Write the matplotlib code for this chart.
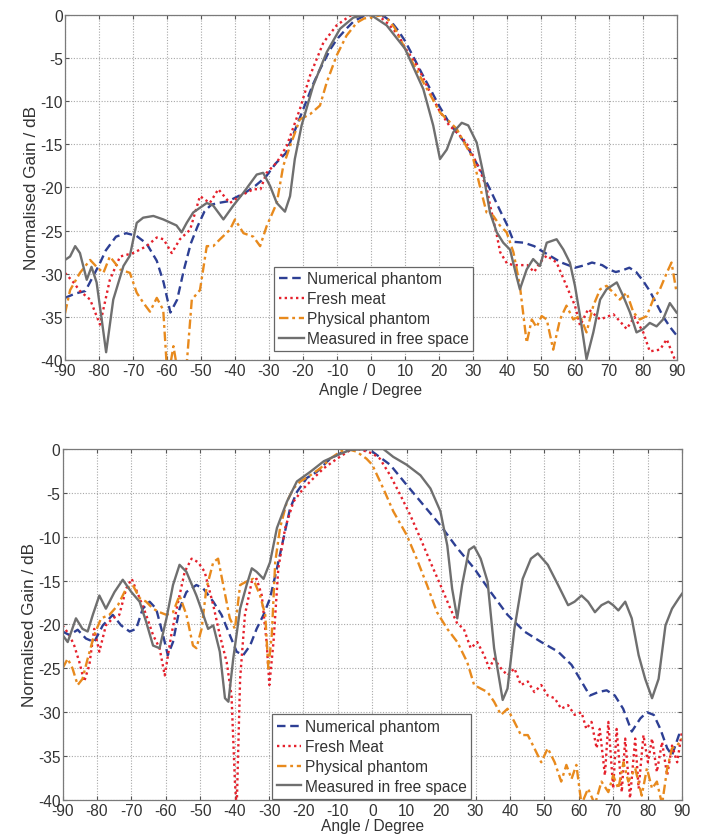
import matplotlib
matplotlib.use("Agg")
import matplotlib.pyplot as plt

plt.rcParams['font.family'] = ['Liberation Sans', 'DejaVu Sans']
plt.rcParams['axes.unicode_minus'] = False

# ---------------- Upper panel ----------------
top_num_ang = [-90, -87, -84, -82, -80, -78, -75, -72, -69, -66, -63, -61, -59, -57, -55, -53, -51, -49,
               -47, -45, -42, -40, -37, -34, -31, -28, -25, -22, -20, -17, -15, -12, -10, -7, -5, -2, 0,
               2, 4, 6, 8, 10, 12, 15, 18, 20, 23, 25, 28, 30, 32, 35, 38, 40, 42, 45, 48, 50, 53, 56,
               60, 63, 65, 68, 70, 72, 74, 76, 78, 80, 82, 84, 86, 88, 90]
top_num_gain = [-32.8, -32.3, -32.0, -30.5, -29.0, -27.3, -25.7, -25.3, -25.6, -26.5, -28.5, -31.0, -34.5,
                -33.0, -29.5, -26.5, -24.5, -22.8, -22.0, -21.8, -21.6, -21.2, -20.6, -19.8, -18.8, -17.2,
                -16.0, -13.0, -11.0, -8.0, -6.3, -4.0, -2.8, -1.5, -0.7, -0.1, 0.0, 0.0, -0.2, -0.8, -1.8,
                -3.0, -4.5, -6.8, -9.0, -10.5, -12.5, -13.5, -15.0, -16.5, -17.8, -20.2, -22.7, -24.3,
                -26.3, -26.4, -26.8, -27.3, -28.0, -28.7, -29.3, -29.0, -28.7, -29.0, -29.5, -29.8, -29.6,
                -29.3, -29.8, -30.8, -32.0, -33.5, -35.0, -36.2, -37.2]

top_meat_ang = [-90, -87.5, -85.6, -82.6, -79.7, -76.8, -73.8, -69.9, -66, -63, -61, -58.6, -56.2, -53.2,
                -50.3, -47.4, -44.9, -41.5, -38.5, -34.6, -32.5, -30.7, -27.7, -24.8, -20.9, -17.9, -14,
                -10.1, -6.2, -3, 0, 2, 5, 8, 10, 13, 15, 18, 20, 23, 25, 28, 30, 32, 34, 35, 37, 38, 40,
                42, 44, 46, 48, 49.7, 51.7, 54.6, 57.5, 60, 61.5, 63.9, 67.4, 71.3, 73.2, 75.2, 77.5,
                80.1, 82, 85, 87, 88.9, 90]
top_meat_gain = [-29.9, -31.0, -32.0, -33.0, -35.9, -30.7, -28.0, -27.6, -26.8, -25.8, -26.0, -27.6, -26.0,
                 -24.9, -21.0, -21.8, -20.2, -21.8, -21.0, -20.2, -20.2, -18.3, -17.1, -15.2, -10.9, -7.0,
                 -3.2, -1.2, -0.1, 0.0, 0.0, 0.0, -1.0, -2.3, -3.8, -5.5, -7.0, -9.5, -11.0, -12.8, -13.5,
                 -14.8, -16.3, -18.0, -20.0, -22.0, -25.5, -27.5, -28.8, -29.0, -29.0, -29.0, -29.8, -28.7,
                 -27.9, -28.7, -31.4, -33.7, -36.0, -34.1, -35.3, -34.7, -35.5, -36.4, -35.0, -36.8, -39.0,
                 -38.8, -37.6, -39.5, -40.5]

top_phys_ang = [-90, -88.5, -85.6, -82.6, -80.7, -78.7, -76.8, -73.8, -70.9, -68.9, -66.9, -65, -63, -61.1,
                -60.1, -59, -58.1, -57.2, -54.2, -52.7, -50.3, -48.3, -46.4, -44.4, -41.5, -40, -37.5,
                -34.6, -32.6, -30.7, -27.7, -25.8, -23.8, -20.9, -17.9, -15, -13, -10.1, -7.2, -4.2, -2,
                0, 2, 4, 7, 10, 15.4, 20.3, 25.2, 30.1, 32, 34, 36, 37.9, 39.9, 41.9, 43.8, 45.8, 47.3,
                48.7, 50.2, 51.7, 53.6, 55.6, 57.5, 59.5, 61.5, 63.4, 65.4, 67.4, 69.3, 71.3, 73.2, 75.2,
                77.2, 79.1, 81.1, 83, 85, 87, 88.4, 89.9]
top_phys_gain = [-34.6, -31.9, -29.9, -28.4, -29.2, -29.9, -28.0, -29.5, -29.9, -32.2, -33.4, -34.4, -32.8,
                 -34.2, -40.5, -40.5, -38.4, -40.5, -40.5, -33.0, -31.9, -26.8, -26.8, -26.0, -24.9, -23.7,
                 -25.3, -25.7, -26.8, -24.5, -21.8, -17.5, -15.2, -12.1, -11.5, -10.5, -7.8, -4.7, -2.4,
                 -0.9, -0.4, -0.3, -0.1, 0.0, -1.5, -3.9, -7.8, -11.3, -13.2, -16.7, -19.8, -22.9, -23.3,
                 -24.4, -25.2, -27.5, -31.4, -38.0, -35.3, -36.2, -34.9, -35.3, -38.8, -35.3, -33.7, -35.3,
                 -34.9, -36.8, -33.7, -31.8, -31.4, -32.2, -33.0, -32.2, -34.5, -35.3, -34.9, -33.0, -31.8,
                 -29.9, -28.7, -32.2]

top_free_ang = [-90, -88.5, -87, -85.6, -83.6, -82.2, -80.7, -79.2, -77.9, -75.8, -72.8, -70.9, -68.9, -67,
                -64, -61.1, -57.2, -55.7, -54.2, -52.3, -48.3, -46.4, -43.4, -40.5, -37.5, -33.6, -31.7,
                -29.7, -27.7, -25.3, -23.8, -22.4, -20.4, -17, -13, -9.1, -5.2, -2, 0, 4.6, 10, 15.4,
                18.3, 20.3, 22.3, 24.2, 26.7, 28.6, 31.1, 33, 35, 37, 38.9, 40.9, 42.8, 43.8, 45.8, 47.7,
                49.7, 51.7, 54.6, 56.6, 58.5, 60, 61.5, 63.4, 65.4, 67.4, 69.3, 72.3, 74.2, 76.2, 78.1,
                80.1, 82, 84, 85.9, 87.9, 89.9]
top_free_gain = [-28.4, -28.0, -26.8, -27.6, -30.7, -29.2, -31.0, -35.3, -39.1, -33.0, -29.1, -27.9, -24.1,
                 -23.5, -23.3, -23.7, -24.4, -25.2, -24.1, -22.9, -21.8, -22.1, -23.7, -22.1, -20.6, -18.5,
                 -18.3, -19.8, -21.8, -22.8, -21.0, -16.7, -12.8, -8.2, -4.3, -1.6, -0.3, 0.0, 0.0, -1.2,
                 -3.9, -8.6, -12.8, -16.7, -15.6, -13.6, -12.5, -12.8, -14.8, -18.3, -22.9, -25.2, -26.4,
                 -27.2, -30.3, -31.8, -29.5, -28.3, -29.1, -26.4, -26.0, -27.2, -28.7, -31.4, -34.9, -39.9,
                 -36.8, -33.0, -31.8, -31.0, -32.6, -34.5, -36.8, -36.4, -35.7, -36.1, -35.3, -33.4, -34.5]

# ---------------- Lower panel ----------------
bot_num_ang = [-90, -88, -85.6, -83.2, -80.8, -78.3, -75.4, -73, -70.5, -68.6, -66.7, -64.7, -62.8, -60.8,
               -59.4, -57.9, -56, -54, -51.1, -49.1, -46.2, -43.8, -41.4, -39.4, -37.5, -35.5, -33.6,
               -31.6, -29.7, -27.7, -25.8, -23.9, -21.9, -19, -16.1, -12.2, -8.3, -5.4, -3, 0, 5.2, 10,
               14.9, 19.8, 24.7, 29.6, 34.4, 39.3, 44.2, 49.1, 54, 57.9, 60.8, 63.2, 65.7, 68.1, 70.5,
               72.9, 75.4, 77.9, 79.8, 81.8, 83.7, 85.7, 87.1, 89.1, 90]
bot_num_gain = [-20.8, -21.2, -20.6, -21.6, -22.0, -20.1, -18.9, -20.1, -20.8, -20.5, -18.2, -17.4, -18.2,
                -21.2, -23.5, -22.0, -18.2, -16.3, -15.5, -15.9, -17.4, -18.9, -21.2, -23.1, -23.5, -22.4,
                -20.5, -18.9, -17.0, -13.6, -10.2, -6.8, -4.9, -3.3, -2.6, -1.1, -0.3, 0.0, 0.0, -0.3,
                -1.8, -4.1, -6.4, -8.7, -11.3, -13.6, -16.3, -18.9, -20.8, -22.0, -23.1, -24.6, -26.5,
                -28.1, -27.7, -27.5, -28.1, -29.6, -32.2, -30.7, -30.0, -30.3, -31.9, -34.1, -34.9, -32.6,
                -32.2]

bot_meat_ang = [-90, -88, -86.6, -85.1, -83.7, -82.2, -80.8, -79.3, -77.4, -75.4, -73.5, -71.5, -69.9,
                -67.6, -65.7, -63.7, -61.8, -60.3, -58.4, -56.4, -54.5, -52.5, -50.6, -48.7, -46.2, -44.3,
                -42.3, -40.9, -39.9, -39.4, -38.4, -37, -35, -33.6, -32.1, -30.7, -29.9, -28.7, -27.3,
                -25.3, -22.9, -20, -17, -14.1, -10.2, -6.3, -4, 0, 2.2, 5.2, 8.1, 11, 14, 16.9, 19.8,
                22.7, 24.7, 26.6, 28.6, 30.5, 32.5, 34, 35.4, 37.4, 39.3, 41.3, 43.2, 45.2, 47.1, 49.1,
                51, 53, 54.9, 56.9, 58.8, 60.8, 62.2, 63.7, 65.2, 66.1, 67.6, 68.6, 70, 71, 72.5, 73.5,
                74.9, 76.4, 77.4, 78.8, 80.1, 81.3, 82.7, 84.2, 85.7, 87.1, 88.6, 90]
bot_meat_gain = [-20.1, -21.2, -22.4, -24.3, -26.5, -24.6, -20.5, -23.1, -20.1, -19.3, -18.9, -15.9, -14.8,
                 -17.0, -18.9, -21.2, -22.7, -25.8, -21.2, -17.4, -14.0, -12.5, -12.9, -14.0, -17.8, -21.2,
                 -24.3, -28.1, -38.0, -41.0, -26.2, -18.9, -15.1, -14.8, -16.7, -22.0, -26.9, -22.0, -13.6,
                 -9.0, -6.0, -4.5, -3.3, -2.2, -1.1, -0.1, 0.0, -0.5, -1.1, -3.0, -5.2, -7.5, -10.2, -12.9,
                 -15.5, -18.2, -19.9, -20.5, -22.7, -22.0, -23.5, -25.0, -23.9, -25.0, -25.8, -25.0, -26.9,
                 -26.5, -27.7, -26.9, -28.1, -28.4, -29.6, -29.2, -30.3, -30.0, -31.9, -31.1, -34.1, -31.9,
                 -37.2, -31.1, -38.7, -31.9, -39.1, -33.0, -39.8, -33.0, -38.7, -32.6, -35.7, -33.0, -36.8,
                 -33.4, -37.2, -33.8, -35.7, -32.2]

bot_phys_ang = [-90, -88.5, -87.1, -85.6, -84.2, -82.7, -80.8, -78.8, -76.4, -73.9, -71.5, -69.6, -67.6,
                -65.7, -63.7, -61.8, -59.8, -57.9, -56, -54, -52.1, -51.1, -49.6, -48.2, -46.2, -44.8,
                -43.3, -41.4, -39.9, -38.4, -36.5, -34.6, -32.6, -31.1, -30.2, -29.2, -28.2, -26.8, -24.8,
                -22.9, -20.9, -18, -15.1, -12.2, -9.3, -7.3, -4.6, -1.7, 0, 3.2, 6.1, 10, 12.9, 15.9, 18.8,
                21.8, 24.7, 27.6, 29.6, 31.5, 33.5, 35.4, 37.4, 39.3, 41.3, 43.2, 45.2, 47.1, 49.1, 51,
                53, 54.9, 56.4, 57.9, 59.3, 60.8, 62.7, 64.7, 66.6, 68.6, 70, 71.5, 73, 74.4, 76.4, 78.3,
                79.8, 81.3, 82.7, 84.2, 85.7, 87.1, 88.6, 90]
bot_phys_gain = [-25.0, -23.9, -25.0, -26.9, -26.2, -23.9, -21.2, -19.3, -18.9, -17.8, -15.9, -15.5, -17.0,
                 -17.4, -18.2, -18.6, -18.9, -18.6, -16.7, -18.9, -22.4, -22.7, -20.5, -15.9, -12.9, -12.5,
                 -15.5, -19.3, -20.5, -15.5, -15.1, -14.8, -16.7, -18.9, -25.0, -21.2, -12.9, -9.0, -6.0,
                 -4.5, -3.7, -3.0, -2.2, -1.1, -0.3, 0.0, -0.3, -1.1, -1.8, -4.5, -7.1, -9.8, -12.5, -15.5,
                 -18.6, -20.5, -22.0, -24.3, -26.9, -27.3, -27.7, -28.8, -30.3, -29.6, -31.1, -32.6, -32.6,
                 -34.1, -35.7, -34.1, -35.7, -37.9, -36.0, -37.6, -36.0, -40.5, -38.7, -40.5, -37.9, -39.1,
                 -37.2, -38.7, -35.7, -37.9, -36.4, -39.5, -36.4, -38.7, -37.9, -40.5, -36.4, -34.1, -33.8,
                 -33.0]

bot_free_ang = [-90, -88.5, -86.1, -84.2, -82.7, -81.2, -79.3, -77.4, -74.9, -72.5, -70, -67.6, -65.7,
                -63.7, -61.8, -59.8, -57.9, -56, -54, -51.1, -49.1, -47.7, -46.2, -44.3, -42.8, -41.8,
                -40.4, -38.4, -36.5, -35, -33.6, -31.6, -29.7, -27.7, -24.8, -21.9, -18, -14.1, -10.2,
                -6.3, 0, 3.2, 6.1, 10, 14, 16.9, 19.8, 21.8, 23.2, 24.7, 26.1, 28.1, 29.6, 31.5, 33.5,
                35.4, 37.9, 39.3, 41.3, 43.7, 46.1, 48.1, 51, 54, 56.9, 58.8, 60.8, 62.7, 64.7, 66.6,
                68.6, 70, 71.5, 73.5, 75.4, 77.4, 79.3, 81.3, 83.2, 85.2, 87.1, 89.1, 90]
bot_free_gain = [-21.2, -22.0, -19.3, -20.5, -20.8, -18.9, -16.7, -18.2, -16.3, -14.9, -16.3, -17.4, -19.7,
                 -22.4, -22.7, -19.3, -15.5, -13.2, -14.0, -16.7, -18.9, -20.5, -20.1, -23.1, -28.4, -28.8,
                 -23.9, -18.2, -15.5, -13.6, -14.0, -14.8, -12.9, -9.0, -6.0, -3.7, -2.6, -1.4, -0.7, -0.1,
                 0.0, 0.0, -0.9, -1.8, -3.0, -4.5, -7.1, -11.0, -15.9, -19.3, -15.5, -11.5, -11.1, -12.5,
                 -15.1, -22.7, -28.6, -27.3, -20.5, -14.8, -12.5, -11.9, -13.2, -15.5, -17.8, -17.4, -16.7,
                 -17.4, -18.6, -17.8, -17.4, -17.8, -18.4, -17.4, -19.3, -23.5, -26.2, -28.4, -26.2, -20.1,
                 -18.2, -17.0, -16.5]

# ---------------- Styling ----------------
C_NUM = '#2d3f94'
C_MEAT = '#e5212c'
C_PHYS = '#e88a1d'
C_FREE = '#6f6f6f'

LS_NUM = (0, (3.6, 2.0))
LS_MEAT = (0, (1.0, 1.4))
LS_PHYS = (0, (4.0, 1.6, 1.2, 1.6))
LW = 1.7

FS = 11.2        # tick, axis-label and legend text
FS_YLAB = 12.4   # vertical axis title

angle_ticks = list(range(-90, 91, 10))
gain_ticks = list(range(-40, 1, 5))

fig = plt.figure(figsize=(7.01, 8.37), dpi=100)
ax_top = fig.add_axes([0.0927, 0.5687, 0.8730, 0.4122])
ax_bot = fig.add_axes([0.0892, 0.0430, 0.8837, 0.4194])

panels = [
    (ax_top,
     [(top_num_ang, top_num_gain), (top_meat_ang, top_meat_gain),
      (top_phys_ang, top_phys_gain), (top_free_ang, top_free_gain)],
     ['Numerical phantom', 'Fresh meat', 'Physical phantom', 'Measured in free space'],
     (0.342, 0.026), 2.5),
    (ax_bot,
     [(bot_num_ang, bot_num_gain), (bot_meat_ang, bot_meat_gain),
      (bot_phys_ang, bot_phys_gain), (bot_free_ang, bot_free_gain)],
     ['Numerical phantom', 'Fresh Meat', 'Physical phantom', 'Measured in free space'],
     (0.338, 0.004), -0.5),
]

styles = [(C_NUM, LS_NUM), (C_MEAT, LS_MEAT), (C_PHYS, LS_PHYS), (C_FREE, '-')]

for ax, series, labels, leg_pos, xpad in panels:
    for (ang, gain), (col, ls), lab in zip(series, styles, labels):
        ax.plot(ang, gain, color=col, linestyle=ls, linewidth=LW, label=lab)
    ax.set_xlim(-90, 90)
    ax.set_ylim(-40, 0)
    ax.set_xticks(angle_ticks)
    ax.set_yticks(gain_ticks)
    ax.grid(True, color='#a8a8a8', linestyle=(0, (1, 1.5)), linewidth=0.8)
    ax.tick_params(direction='in', top=True, right=True, length=3, width=0.8,
                   colors='#555555', labelcolor='#333333', labelsize=FS, pad=1.5)
    ax.tick_params(axis='x', pad=2.5)
    for sp in ax.spines.values():
        sp.set_color('#7a7a7a')
        sp.set_linewidth(0.9)
    ax.set_xlabel('Angle / Degree', fontsize=FS, color='#333333', labelpad=xpad)
    ax.set_ylabel('Normalised Gain / dB', fontsize=FS_YLAB, color='#333333', labelpad=1)
    leg = ax.legend(loc='lower left', bbox_to_anchor=leg_pos, fontsize=FS,
                    handlelength=1.6, handletextpad=0.2, borderpad=0.3,
                    labelspacing=0.32, borderaxespad=0.0, fancybox=False,
                    framealpha=1.0, edgecolor='#666666')
    leg.get_frame().set_linewidth(0.9)
    for t in leg.get_texts():
        t.set_color('#333333')

fig.savefig('out.png', dpi=100)
